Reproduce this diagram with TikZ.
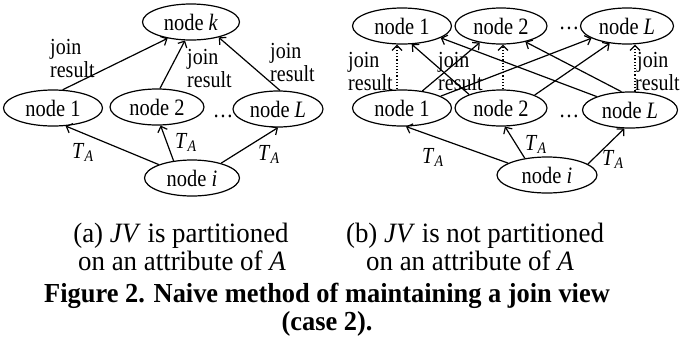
\documentclass[tikz,border=0pt]{standalone}
\usepackage{fontspec}
\setmainfont{Liberation Serif}
\newfontfamily\nodefont{Liberation Serif}[FakeStretch=0.87]
\newfontfamily\capfont{Liberation Serif}[FakeStretch=0.96]
\usetikzlibrary{arrows.meta,shapes.geometric,calc}
\begin{document}
\begin{tikzpicture}[x=1pt,y=-1pt,
  nd/.style={ellipse,draw,line width=1.2pt,minimum width=97pt,minimum height=36pt,inner sep=0pt,font=\nodefont\fontsize{23.5}{24}\selectfont},
  lbl/.style={font=\nodefont\fontsize{23}{24}\selectfont,inner sep=0pt,anchor=base west},
  dotsl/.style={font=\nodefont\fontsize{23.5}{24}\selectfont,inner sep=0pt,anchor=base},
  captxt/.style={font=\capfont\fontsize{28}{28}\selectfont,inner sep=0pt,anchor=base},
  figtxt/.style={font=\capfont\fontsize{27.5}{28}\selectfont\bfseries,inner sep=0pt,anchor=base},
  arr/.style={line width=1.2pt,-{Straight Barb[length=5pt,width=10pt]}},
  darr/.style={arr,dotted}]
\useasboundingbox (0,0) rectangle (685,341);
% ---------- (a) ----------
\node[nd] (k) at (191,22) {node \textit{k}};
\node[nd,minimum width=99pt] (a1) at (53,108) {node 1};
\node[nd,minimum width=94pt] (a2) at (157,107) {node 2};
\node[nd,minimum width=90pt] (aL) at (278,109) {node \textit{L}};
\node[nd,minimum width=95pt] (ai) at (192,178) {node \textit{i}};
\node[dotsl] (ad) at (223,117) {…};
\draw[arr] (a1.62) -- (k.215);
\draw[arr] (a2.81) -- (k.252);
\draw[arr] (aL.84) -- (k.331);
\draw[arr] (ai.158) -- (a1.305);
\draw[arr] (ai.137) -- (a2.281);
\draw[arr] (ai.27) -- (aL.270);
\node[lbl] (aj1) at (50,54) {join};
\node[lbl] (ar1) at (50,77) {result};
\node[lbl] (aj2) at (187,64) {join};
\node[lbl] (ar2) at (187,87) {result};
\node[lbl] (aj3) at (270,58) {join};
\node[lbl] (ar3) at (270,81) {result};
\node[lbl] (at1) at (72,158) {\textit{T}\textsubscript{\textit{A}}};
\node[lbl] (at2) at (175,148) {\textit{T}\textsubscript{\textit{A}}};
\node[lbl] (at3) at (258,160) {\textit{T}\textsubscript{\textit{A}}};
% ---------- (b) ----------
\node[nd,minimum width=99pt] (t1) at (402,26) {node 1};
\node[nd,minimum width=92pt] (t2) at (501,26) {node 2};
\node[nd,minimum width=93pt] (tL) at (627,26) {node \textit{L}};
\node[nd,minimum width=99pt] (m1) at (402,108) {node 1};
\node[nd,minimum width=92pt] (m2) at (501,108) {node 2};
\node[nd,minimum width=95pt] (mL) at (630,110) {node \textit{L}};
\node[nd,minimum width=100pt] (bi) at (547,175) {node \textit{i}};
\node[dotsl] (bd1) at (569,29) {…};
\node[dotsl] (bd2) at (569,117) {…};
\draw[darr] (m1.105) -- (m1.105 |- t1.south);
\draw[darr] (m2.84) -- (m2.84 |- t2.south);
\draw[darr] (mL.75) -- (mL.75 |- tL.south);
\draw[arr] (m1.40) -- (t2.218);
\draw[arr] (m1.17) -- (tL.199);
\draw[arr] (m2.157) -- (t1.298);
\draw[arr] (m2.21) -- (tL.225);
\draw[arr] (mL.158) -- (t1.343);
\draw[arr] (mL.115) -- (t2.327);
\draw[arr] (bi.163) -- (m1.282);
\draw[arr] (bi.143) -- (m2.282);
\draw[arr] (bi.15) -- (mL.253);
\node[lbl] (bj1) at (348,67) {join};
\node[lbl] (br1) at (348,90) {result};
\node[lbl] (bj2) at (438,67) {join};
\node[lbl] (br2) at (438,90) {result};
\node[lbl] (bj3) at (637,67) {join};
\node[lbl] (br3) at (635,90) {result};
\node[lbl] (bt1) at (422,163) {\textit{T}\textsubscript{\textit{A}}};
\node[lbl] (bt2) at (525,150) {\textit{T}\textsubscript{\textit{A}}};
\node[lbl] (bt3) at (602,165) {\textit{T}\textsubscript{\textit{A}}};
% ---------- captions ----------
\node[captxt] (ca1) at (181,242) {(a) \textit{JV} is partitioned};
\node[captxt] (ca2) at (182,270) {on an attribute of \textit{A}};
\node[captxt] (cb1) at (475,242) {(b) \textit{JV} is not partitioned};
\node[captxt] (cb2) at (470,270) {on an attribute of \textit{A}};
\node[figtxt] (fig1) at (327,302) {Figure 2. Naive method of maintaining a join view};
\node[figtxt] (fig2) at (327,330) {(case 2).};
\end{tikzpicture}
\end{document}
